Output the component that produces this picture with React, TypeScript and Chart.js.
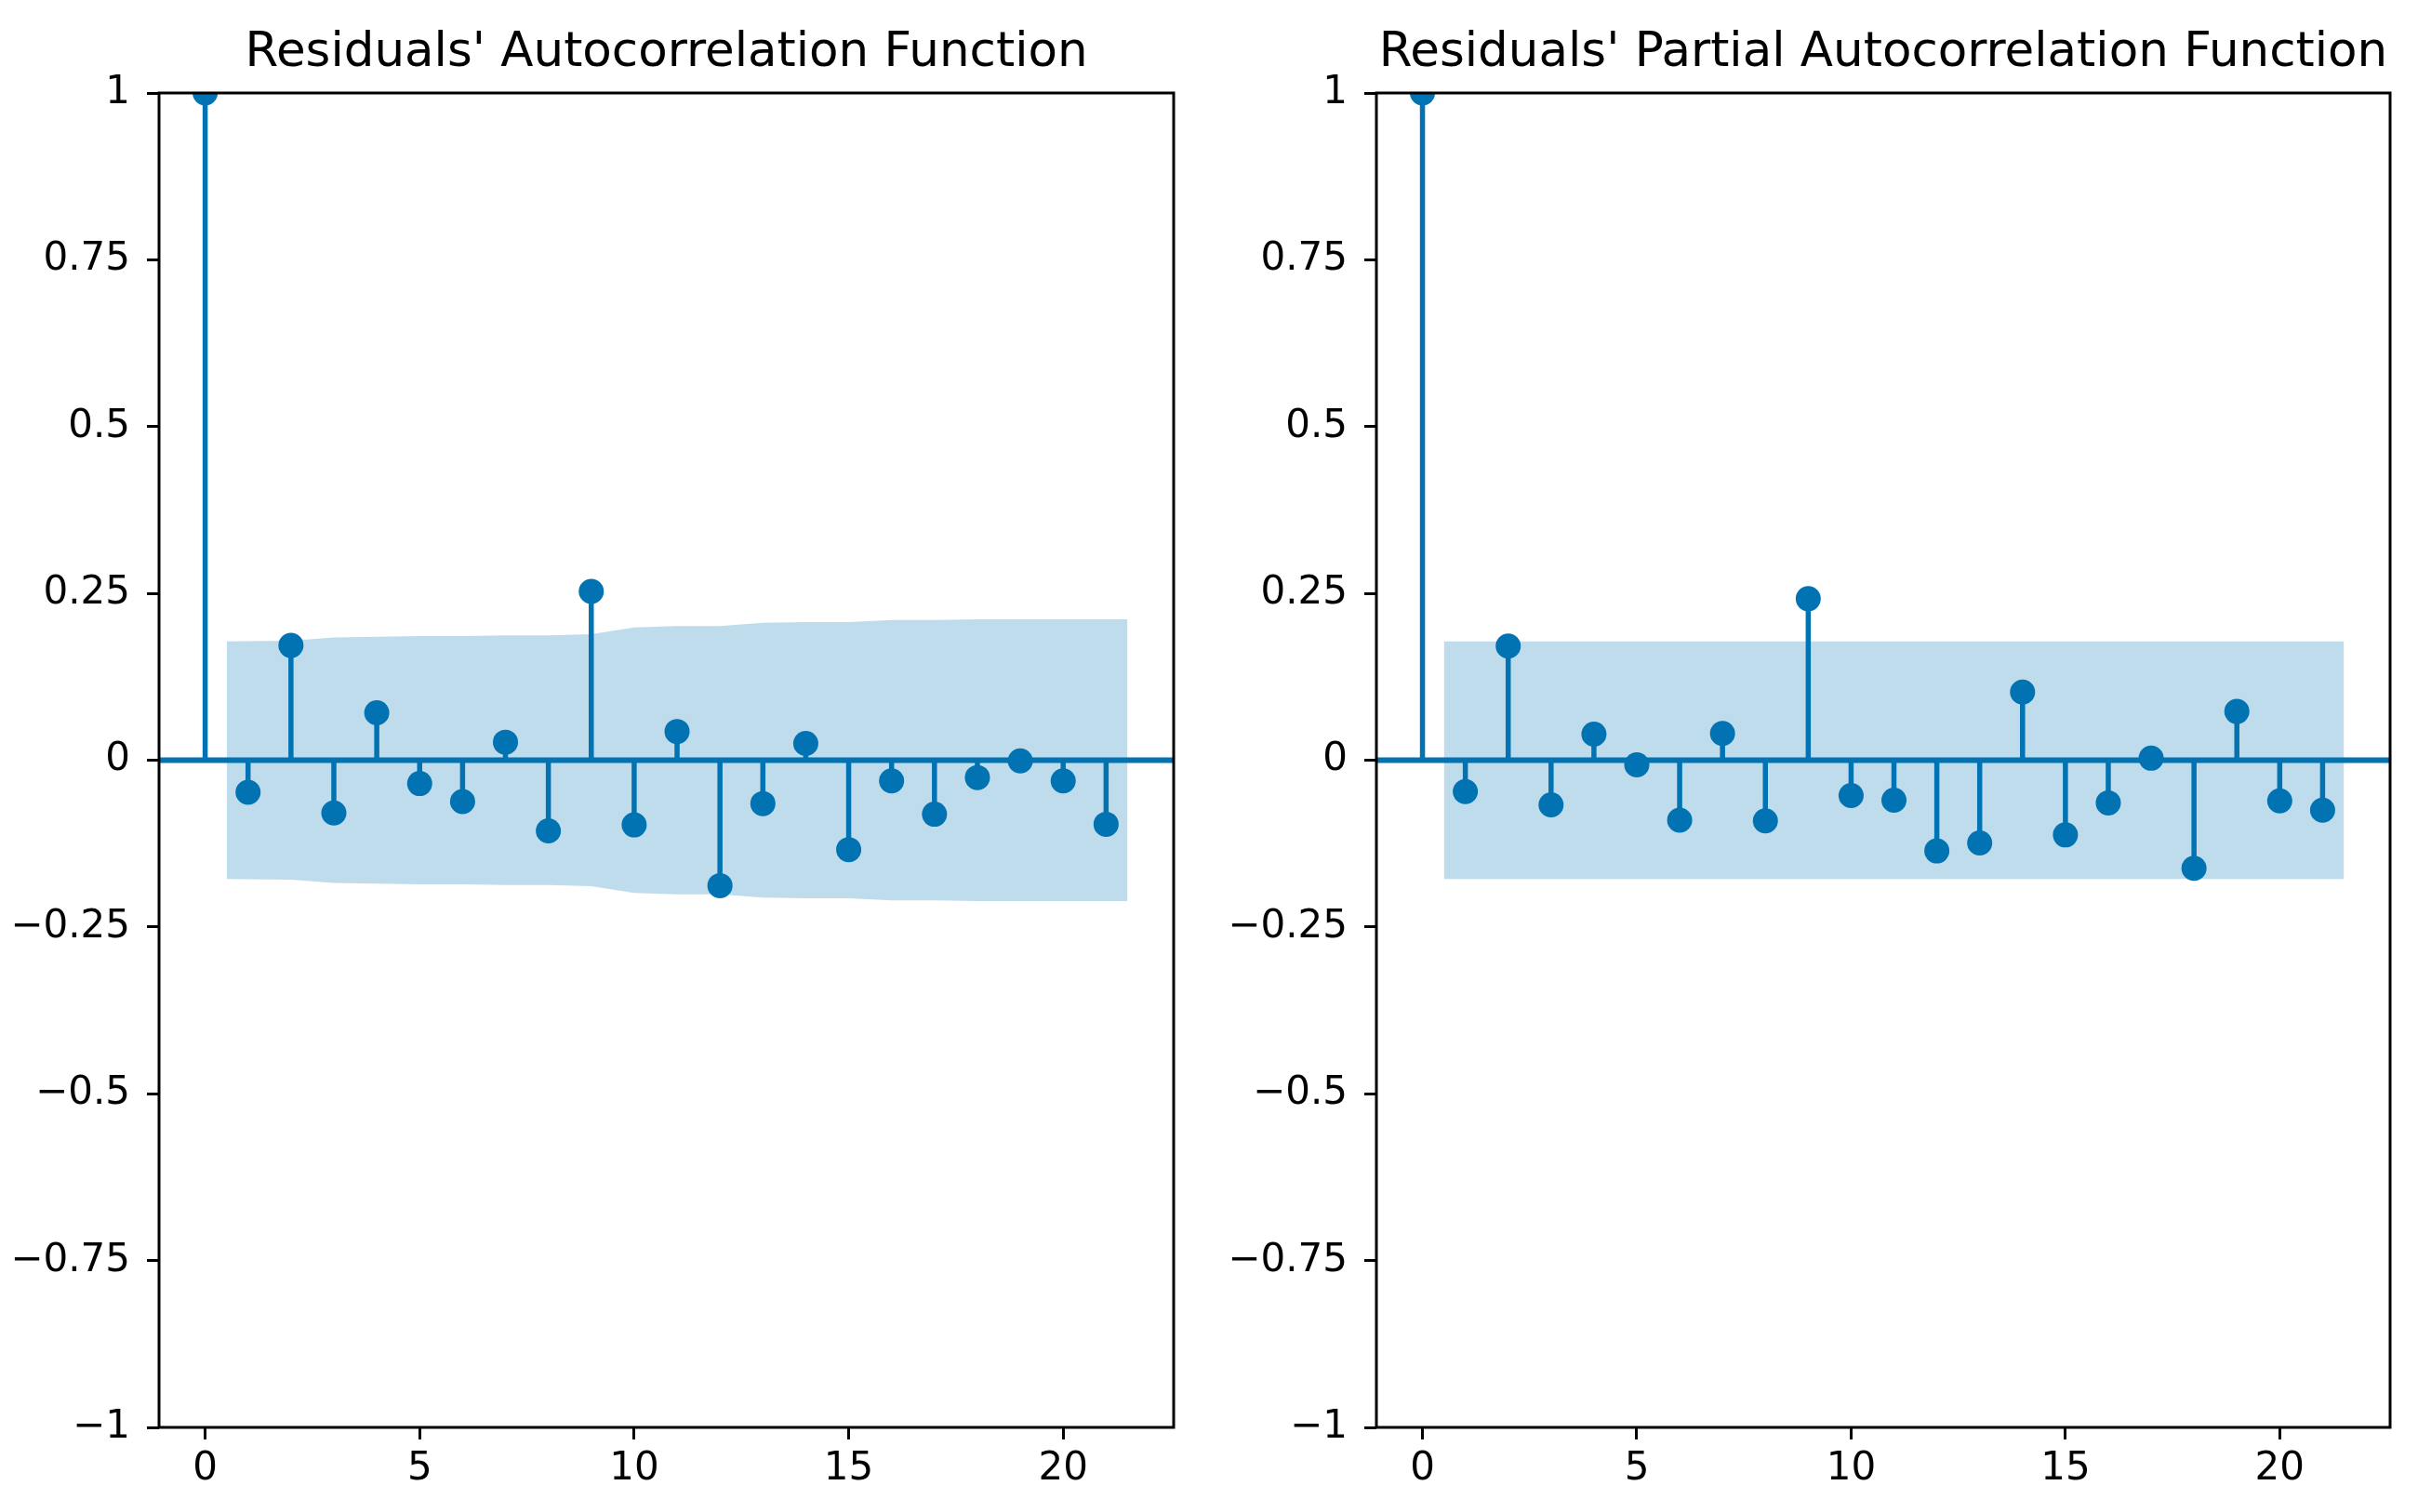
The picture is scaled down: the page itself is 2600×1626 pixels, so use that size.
import React, { useEffect, useRef } from "react";
import { Chart, registerables } from "chart.js";

Chart.register(...registerables);

// ---- data ----
const lags = [0, 1, 2, 3, 4, 5, 6, 7, 8, 9, 10, 11, 12, 13, 14, 15, 16, 17, 18, 19, 20, 21];

const acfValues = [
  1, -0.048, 0.172, -0.079, 0.071, -0.035, -0.062, 0.027, -0.106, 0.253, -0.097,
  0.043, -0.188, -0.065, 0.025, -0.134, -0.031, -0.081, -0.026, -0.001, -0.031, -0.096,
];

// half-width of the confidence band for lags 1..21
const acfBand = [
  0.178, 0.179, 0.184, 0.185, 0.186, 0.186, 0.187, 0.187, 0.189, 0.199, 0.201,
  0.201, 0.206, 0.207, 0.207, 0.21, 0.21, 0.211, 0.211, 0.211, 0.211,
];

const pacfValues = [
  1, -0.047, 0.171, -0.067, 0.039, -0.007, -0.09, 0.04, -0.091, 0.242, -0.053,
  -0.06, -0.136, -0.124, 0.102, -0.112, -0.064, 0.003, -0.162, 0.073, -0.061, -0.075,
];

const pacfBand = [
  0.178, 0.178, 0.178, 0.178, 0.178, 0.178, 0.178, 0.178, 0.178, 0.178, 0.178,
  0.178, 0.178, 0.178, 0.178, 0.178, 0.178, 0.178, 0.178, 0.178, 0.178,
];

const xTickValues = [0, 5, 10, 15, 20];
const xTickLabels = ["0", "5", "10", "15", "20"];
const yTickValues = [-1, -0.75, -0.5, -0.25, 0, 0.25, 0.5, 0.75, 1];
const yTickLabels = ["\u22121", "\u22120.75", "\u22120.5", "\u22120.25", "0", "0.25", "0.5", "0.75", "1"];

const xMin = -1.075;
const xMax = 22.575;
const yMin = -1;
const yMax = 1;

const titleAcf = "Residuals' Autocorrelation Function";
const titlePacf = "Residuals' Partial Autocorrelation Function";

// ---- style ----
const BLUE = "#0173b2";
const BAND = "rgba(1,115,178,0.25)";
const FONT = "'DejaVu Sans', 'Liberation Sans', sans-serif";

const framePlugin = {
  id: "frame",
  afterDatasetsDraw(chart: any) {
    const { ctx, chartArea } = chart;
    const { left, top, right, bottom } = chartArea;
    ctx.save();
    ctx.strokeStyle = "#000";
    ctx.lineWidth = 3;
    ctx.strokeRect(left, top, right - left, bottom - top);
    ctx.restore();
  },
};

type PanelProps = {
  title: string;
  values: number[];
  band: number[];
  left: number;
  yAxisWidth: number;
  padRight: number;
};

function Panel({ title, values, band, left, yAxisWidth, padRight }: PanelProps) {
  const ref = useRef<HTMLCanvasElement | null>(null);

  useEffect(() => {
    if (!ref.current) return;
    const bandLags = lags.slice(1).map((l, i, arr) =>
      i === 0 ? l - 0.5 : i === arr.length - 1 ? l + 0.5 : l
    );
    const stemData: any[] = [];
    lags.forEach((l, i) => {
      stemData.push({ x: l, y: 0 });
      stemData.push({ x: l, y: values[i] });
      stemData.push({ x: l, y: null });
    });

    const chart = new Chart(ref.current, {
      type: "scatter",
      data: {
        datasets: [
          {
            type: "line",
            data: bandLags.map((x, i) => ({ x, y: band[i] })),
            borderWidth: 0,
            pointRadius: 0,
            fill: "+1",
            backgroundColor: BAND,
            borderColor: "rgba(0,0,0,0)",
            order: 10,
            tension: 0,
          },
          {
            type: "line",
            data: bandLags.map((x, i) => ({ x, y: -band[i] })),
            borderWidth: 0,
            pointRadius: 0,
            fill: false,
            borderColor: "rgba(0,0,0,0)",
            order: 10,
            tension: 0,
          },
          {
            type: "line",
            data: stemData,
            borderColor: BLUE,
            borderWidth: 5.5,
            borderCapStyle: "butt",
            pointRadius: 0,
            spanGaps: false,
            fill: false,
            order: 3,
            clip: 0,
          },
          {
            type: "line",
            data: [
              { x: xMin, y: 0 },
              { x: xMax, y: 0 },
            ],
            borderColor: BLUE,
            borderWidth: 6,
            pointRadius: 0,
            fill: false,
            order: 2,
          },
          {
            type: "scatter",
            data: lags.map((l, i) => ({ x: l, y: values[i] })),
            pointRadius: 13.5,
            pointBackgroundColor: BLUE,
            pointBorderWidth: 0,
            pointBorderColor: BLUE,
            showLine: false,
            order: 1,
            clip: 0,
          },
        ] as any,
      },
      options: {
        animation: false,
        responsive: false,
        devicePixelRatio: 1,
        events: [],
        layout: { padding: { left: 0, right: padRight, top: 0, bottom: 0 } },
        plugins: {
          legend: { display: false },
          tooltip: { enabled: false },
          title: {
            display: true,
            text: title,
            color: "#000",
            fullSize: false,
            font: { family: FONT, size: 51.5, weight: "normal" },
            padding: { top: 27, bottom: 11.2 },
          },
        },
        scales: {
          x: {
            type: "linear",
            min: xMin,
            max: xMax,
            offset: false,
            border: { display: false },
            grid: {
              display: true,
              drawOnChartArea: false,
              drawTicks: true,
              tickLength: 13,
              tickWidth: 3,
              tickColor: "#000",
              offset: false,
            },
            afterBuildTicks: (scale: any) => {
              scale.ticks = xTickValues.map((v) => ({ value: v }));
            },
            afterFit: (scale: any) => {
              scale.height = 91;
            },
            ticks: {
              color: "#000",
              font: { family: FONT, size: 42 },
              padding: 7,
              maxRotation: 0,
              autoSkip: false,
              callback: (v: any) => {
                const i = xTickValues.indexOf(Number(v));
                return i >= 0 ? xTickLabels[i] : "";
              },
            },
          },
          y: {
            type: "linear",
            min: yMin,
            max: yMax,
            border: { display: false },
            grid: {
              display: true,
              drawOnChartArea: false,
              drawTicks: true,
              tickLength: 13,
              tickWidth: 3,
              tickColor: "#000",
            },
            afterBuildTicks: (scale: any) => {
              scale.ticks = yTickValues.map((v) => ({ value: v }));
            },
            afterFit: (scale: any) => {
              scale.width = yAxisWidth;
            },
            ticks: {
              color: "#000",
              font: { family: FONT, size: 42 },
              padding: 18,
              autoSkip: false,
              callback: (v: any) => {
                const i = yTickValues.findIndex((t) => Math.abs(t - Number(v)) < 1e-9);
                return i >= 0 ? yTickLabels[i] : "";
              },
            },
          },
        },
      } as any,
      plugins: [framePlugin],
    });
    return () => chart.destroy();
  }, [title, values, band, yAxisWidth, padRight]);

  return (
    <canvas
      ref={ref}
      width={1300}
      height={1626}
      style={{ position: "absolute", left, top: 0, width: 1300, height: 1626 }}
    />
  );
}

export default function App() {
  return (
    <div
      style={{
        position: "fixed",
        left: 0,
        top: 0,
        width: 2600,
        height: 1626,
        background: "#fff",
        overflow: "hidden",
      }}
    >
      <Panel title={titleAcf} values={acfValues} band={acfBand} left={0} yAxisWidth={171} padRight={38} />
      <Panel title={titlePacf} values={pacfValues} band={pacfBand} left={1300} yAxisWidth={180} padRight={30} />
    </div>
  );
}
